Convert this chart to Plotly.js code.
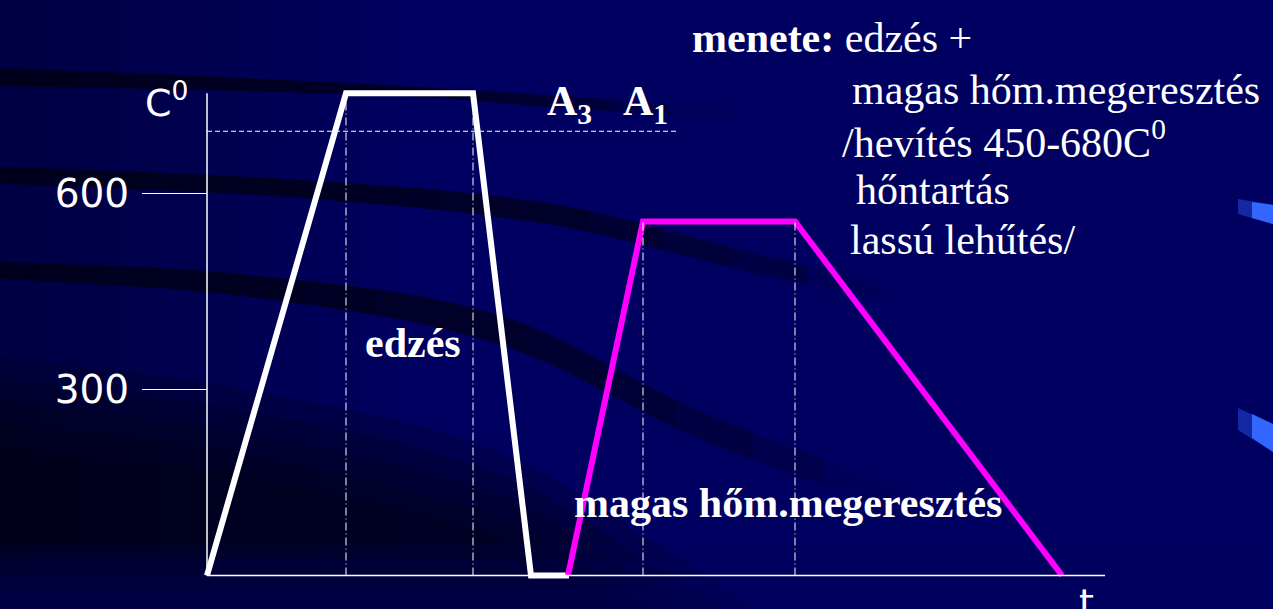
<!DOCTYPE html>
<html><head><meta charset="utf-8">
<script src="https://cdn.plot.ly/plotly-3.0.1.min.js"></script>
<style>html,body{margin:0;padding:0;background:#000060;overflow:hidden}#c{width:1273px;height:609px}</style>
</head><body><div id="c"></div>
<script>
// --- data (time in arbitrary units, temperature in °C) ---
const timeQuench = [0, 13.9, 26.6, 32.4, 36.2];
const tempQuench = [15, 753, 753, 15, 15];
const timeTemper = [36.1, 43.6, 58.8, 85.5];
const tempTemper = [15, 557, 557, 15];
const tempA3 = 695;
const tickVals = [300, 600];
const tickText = ['300', '600'];
const xAxisEnd = 89.8;
const a3LineEnd = 47.1;

const W = 1273, H = 609;
const fx = x => (x/W).toFixed(4), fy = y => (1-y/H).toFixed(4);
const bg = [];
function poly(pts, color){
  bg.push({type:'path', xref:'paper', yref:'paper',
    path:'M'+pts.map(p=>fx(p[0])+','+fy(p[1])).join(' L')+' Z', fillcolor:color, line:{width:0}, layer:'below'});
}
// smooth (cubic Hermite) interpolation through control values
function smooth(xs, vs, x){
  const n=xs.length;
  const slope=i=> i===0 ? (vs[1]-vs[0])/(xs[1]-xs[0]) : i===n-1 ? (vs[n-1]-vs[n-2])/(xs[n-1]-xs[n-2]) : (vs[i+1]-vs[i-1])/(xs[i+1]-xs[i-1]);
  for(let i=0;i<n-1;i++){
    if(x<=xs[i+1] || i===n-2){
      const h=xs[i+1]-xs[i], t=Math.max(0,Math.min(1,(x-xs[i])/h));
      const h00=2*t*t*t-3*t*t+1, h10=t*t*t-2*t*t+t, h01=-2*t*t*t+3*t*t, h11=t*t*t-t*t;
      return h00*vs[i]+h10*h*slope(i)+h01*vs[i+1]+h11*h*slope(i+1);
    }
  }
}
function lerp(xs, vs, x){
  for(let i=0;i<xs.length-1;i++){ if(x<=xs[i+1]){ const t=(x-xs[i])/(xs[i+1]-xs[i]); return vs[i]+t*(vs[i+1]-vs[i]); } }
  return vs[vs.length-1];
}
// decorative swoosh: centre line, thickness and opacity given at control x
function swoosh(xs, cy, th, al, rgb){
  const x0=xs[0], x1=xs[xs.length-1], n=12;
  const seg=(x1-x0)/n;
  for(let i=0;i<n;i++){
    const a=x0+seg*i, b=x0+seg*(i+1);
    const alpha=lerp(xs,al,(a+b)/2);
    const top=[], bot=[];
    for(let k=0;k<=6;k++){
      const x=a+(b-a)*k/6 + (k===6?0.7:0);
      const xc=Math.min(x,x1);
      const c=smooth(xs,cy,xc), t=smooth(xs,th,xc)/2;
      top.push([x,c-t]); bot.unshift([x,c+t]);
    }
    poly(top.concat(bot), 'rgba('+rgb+','+alpha.toFixed(3)+')');
  }
}
// soft darkening of the left side
for(let i=0;i<10;i++){ bg.push({type:'rect',xref:'paper',yref:'paper',x0:0,x1:(40+i*40)/W,y0:0,y1:1,fillcolor:'rgba(0,0,20,0.04)',line:{width:0},layer:'below'}); }
// wide dark region lower-left, layered for a soft gradient
const dTopX=[0,250,500,650,760], dTopY=[357,390,452,540,609];
for(let k=0;k<5;k++){
  const pts=[];
  for(let x=0;x<=780;x+=10){ const y=smooth(dTopX,dTopY,Math.min(x,760))+k*22; if(y<609) pts.push([x,y]); }
  pts.push([pts[pts.length-1][0],609]); pts.push([0,609]);
  poly(pts,'rgba(0,0,15,0.22)');
}
// lighten the very bottom again
for(let k=0;k<4;k++){ poly([[0,545+k*15],[W,545+k*15],[W,609],[0,609]],'rgba(0,0,96,0.2)'); }
swoosh([0,200,420,560,730],[77,83,92,102,114],[18,14,10,12,10],[0.9,0.85,0.8,0.6,0],'0,0,25');
swoosh([0,300,550,750,880],[175,189,214,262,292],[17,18,21,20,16],[0.88,0.85,0.75,0.45,0],'0,0,25');
swoosh([0,250,500,700,900],[270,286,330,425,500],[17,22,29,28,24],[0.88,0.85,0.75,0.45,0],'0,0,25');
// blue glints at right edge
poly([[1238,199],[1273,205],[1273,224],[1238,214]],'rgba(40,80,230,0.5)');
poly([[1252,202],[1273,205],[1273,224],[1252,218]],'#3366ff');
poly([[1238,408],[1273,424],[1273,452],[1238,430]],'rgba(40,80,230,0.5)');
poly([[1252,414],[1273,424],[1273,452],[1252,438]],'#3366ff');

const white = '#ffffff';
const dd = '8px,3px,1px,3px';
const axisShapes = [
  {type:'line', xref:'x', yref:'y', x0:0, x1:xAxisEnd, y0:tempQuench[0], y1:tempQuench[0], line:{color:white, width:1.5}},
  {type:'line', xref:'x', yref:'y', x0:0, x1:0, y0:tempQuench[0], y1:tempQuench[1], line:{color:white, width:1.5}},
  {type:'line', xref:'x', yref:'y', x0:0, x1:a3LineEnd, y0:tempA3, y1:tempA3, line:{color:white, width:1, dash:'5px,3px'}},
  {type:'line', xref:'x', yref:'y', x0:timeQuench[1], x1:timeQuench[1], y0:tempQuench[0], y1:tempQuench[1], line:{color:white, width:1, dash:dd}},
  {type:'line', xref:'x', yref:'y', x0:timeQuench[2], x1:timeQuench[2], y0:tempQuench[0], y1:tempQuench[2], line:{color:white, width:1, dash:dd}},
  {type:'line', xref:'x', yref:'y', x0:timeTemper[1], x1:timeTemper[1], y0:tempTemper[0], y1:tempTemper[1], line:{color:white, width:1, dash:dd}},
  {type:'line', xref:'x', yref:'y', x0:timeTemper[2], x1:timeTemper[2], y0:tempTemper[0], y1:tempTemper[2], line:{color:white, width:1, dash:dd}}
];

const traces = [
  {x:timeQuench, y:tempQuench, mode:'lines', line:{color:white, width:6}, hoverinfo:'skip', showlegend:false},
  {x:timeTemper, y:tempTemper, mode:'lines', line:{color:'#ff00ff', width:6}, hoverinfo:'skip', showlegend:false}
];

const serif = 'Liberation Serif, Times New Roman, serif';
function ann(text, x, y, size, family, extra){
  return Object.assign({xref:'paper', yref:'paper', x:x/W, y:1-y/H, text:text, showarrow:false, xanchor:'left', yanchor:'middle', font:{family:family, size:size, color:white}}, extra||{});
}
const annotations = [
  ann('<b>menete:</b> edzés +', 690, 38, 42, serif),
  ann('magas hőm.megeresztés', 850, 90, 42, serif),
  ann('/hevítés 450-680C<sup>0</sup>', 840, 140, 42, serif),
  ann('hőntartás', 854, 190, 42, serif),
  ann('lassú lehűtés/', 848, 240, 42, serif),
  ann('<b>edzés</b>', 363, 343, 42, serif),
  ann('<b>magas hőm.megeresztés</b>', 572, 503, 42, serif),
  ann('<b>A<sub>3</sub></b>', 545, 104, 42, serif),
  ann('<b>A<sub>1</sub></b>', 621, 104, 42, serif),
  ann('C<sup>0</sup>', 143, 100, 38, 'DejaVu Sans, sans-serif'),
  ann('t', 1077, 603, 38, 'DejaVu Sans, sans-serif')
];

const layout = {
  width:W, height:H, margin:{l:0,r:0,t:0,b:0},
  paper_bgcolor:'#000060', plot_bgcolor:'rgba(0,0,0,0)',
  xaxis:{range:[-20.7, 106.6], visible:false, fixedrange:true},
  yaxis:{range:[-36.3, 895.9], anchor:'free', position:207/W, showline:false, showgrid:false, zeroline:false,
         tickvals:tickVals, ticktext:tickText, ticks:'outside', ticklen:65, tickwidth:1, tickcolor:white,
         ticklabelstandoff:5,
         tickfont:{family:'DejaVu Sans, sans-serif', size:39, color:white}, fixedrange:true},
  shapes: bg.concat(axisShapes),
  annotations: annotations,
  showlegend:false
};
Plotly.newPlot('c', traces, layout, {staticPlot:true, displayModeBar:false});
</script></body></html>
